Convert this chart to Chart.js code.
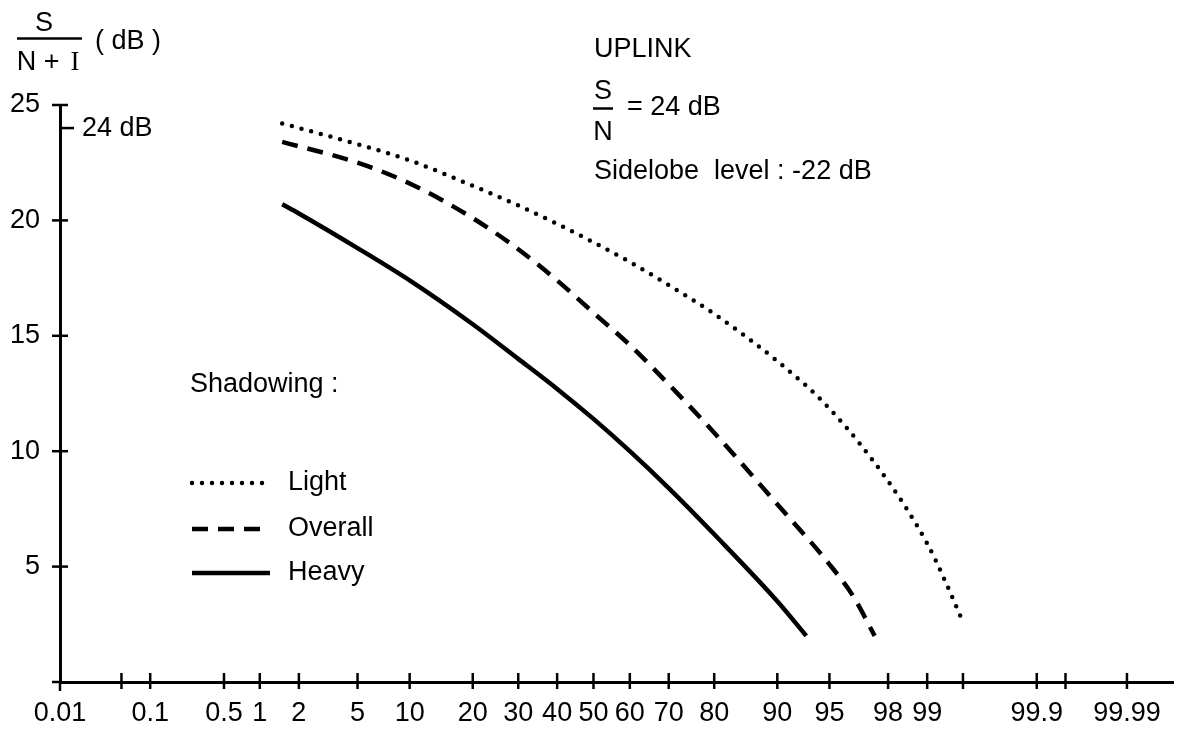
<!DOCTYPE html>
<html><head><meta charset="utf-8">
<script src="https://cdn.jsdelivr.net/npm/chart.js@4/dist/chart.umd.min.js"></script>
<style>html,body{margin:0;padding:0;background:#fff;overflow:hidden}#wrap{position:relative;width:1177px;height:733px}</style>
</head><body><div id="wrap"><canvas id="c" width="1177" height="733"></canvas></div>
<script>
// ---- data ----
const xTickProbs = [0.01,0.05,0.1,0.5,1,2,5,10,20,30,40,50,60,70,80,90,95,98,99,99.5,99.9,99.95,99.99];
const xTickText  = ['0.01','','0.1','0.5','1','2','5','10','20','30','40','50','60','70','80','90','95','98','99','','99.9','','99.99'];
const yTickValues = [5,10,15,20,25];

const lightProb = [1.5, 5, 10, 20, 30, 40, 50, 60, 70, 80, 90, 95, 98, 99, 99.3, 99.5];
const lightDb   = [24.2, 23.3, 22.6, 21.5, 20.65, 19.85, 19.05, 18.2, 17.2, 15.95, 13.9, 11.85, 8.7, 6.0, 4.3, 2.6];

const overallProb = [1.5, 5, 10, 20, 30, 40, 50, 60, 70, 80, 90, 95, 96.5, 97.5];
const overallDb   = [23.4, 22.5, 21.6, 20.1, 18.75, 17.4, 16.0, 14.6, 12.9, 10.8, 7.7, 5.1, 3.7, 2.0];

const heavyProb = [1.5, 2, 5, 10, 20, 30, 40, 50, 60, 70, 80, 90, 93.1];
const heavyDb   = [20.7, 20.3, 18.8, 17.4, 15.5, 14.0, 12.7, 11.4, 10.0, 8.4, 6.4, 3.5, 2.0];

const seriesNames = ['Light','Overall','Heavy'];

// ---- normal probability (probit) transform for the x scale ----
function probit(pct){
  const p = pct/100;
  const a=[-3.969683028665376e+01,2.209460984245205e+02,-2.759285104469687e+02,1.383577518672690e+02,-3.066479806614716e+01,2.506628277459239e+00];
  const b=[-5.447609879822406e+01,1.615858368580409e+02,-1.556989798598866e+02,6.680131188771972e+01,-1.328068155288572e+01];
  const c=[-7.784894002430293e-03,-3.223964580411365e-01,-2.400758277161838e+00,-2.549732539343734e+00,4.374664141464968e+00,2.938163982698783e+00];
  const d=[7.784695709041462e-03,3.224671290700398e-01,2.445134137142996e+00,3.754408661907416e+00];
  const pl=0.02425, ph=1-pl; let q,r;
  if(p<pl){q=Math.sqrt(-2*Math.log(p));return (((((c[0]*q+c[1])*q+c[2])*q+c[3])*q+c[4])*q+c[5])/((((d[0]*q+d[1])*q+d[2])*q+d[3])*q+1);}
  if(p<=ph){q=p-0.5;r=q*q;return (((((a[0]*r+a[1])*r+a[2])*r+a[3])*r+a[4])*r+a[5])*q/(((((b[0]*r+b[1])*r+b[2])*r+b[3])*r+b[4])*r+1);}
  q=Math.sqrt(-2*Math.log(1-p));return -(((((c[0]*q+c[1])*q+c[2])*q+c[3])*q+c[4])*q+c[5])/((((d[0]*q+d[1])*q+d[2])*q+d[3])*q+1);
}
const pts = (P,V) => P.map((p,i)=>({x:probit(p), y:V[i]}));

const FONT = '"Liberation Sans", Arial, Helvetica, sans-serif';
const FS = 27;
const styles = [
  {borderDash:[0,10], borderCapStyle:'round', borderWidth:4.5},
  {borderDash:[16,10], borderCapStyle:'butt', borderWidth:4.5},
  {borderDash:[], borderCapStyle:'butt', borderWidth:4.5}
];

const decor = {
  id:'decor',
  afterDraw(chart){
    const ctx = chart.ctx, xs = chart.scales.x, ys = chart.scales.y;
    ctx.save();
    ctx.strokeStyle='#000'; ctx.fillStyle='#000'; ctx.lineWidth=2.5; ctx.lineCap='butt';
    const y0 = ys.getPixelForValue(0), x0 = xs.getPixelForValue(xs.min);
    xs.ticks.forEach(t=>{ const px=xs.getPixelForValue(t.value); if(Math.abs(px-x0)<2) return;
      ctx.beginPath(); ctx.moveTo(px,y0-9); ctx.lineTo(px,y0+7); ctx.stroke(); });
    ys.ticks.forEach(t=>{ const py=ys.getPixelForValue(t.value);
      ctx.beginPath(); ctx.moveTo(x0-8,py); ctx.lineTo(x0+8,py); ctx.stroke(); });
    ctx.beginPath(); ctx.moveTo(x0,y0); ctx.lineTo(x0,y0+9); ctx.stroke();
    ctx.beginPath(); ctx.moveTo(x0-8,y0); ctx.lineTo(x0,y0); ctx.stroke();
    // 24 dB marker
    const p24 = ys.getPixelForValue(24);
    ctx.beginPath(); ctx.moveTo(x0,p24); ctx.lineTo(x0+14,p24); ctx.stroke();
    ctx.font = FS+'px '+FONT; ctx.textBaseline='middle'; ctx.textAlign='left';
    ctx.fillText('24 dB', 82, p24);

    // y-axis title: S / (N + I) (dB)
    ctx.textAlign='center';
    ctx.fillText('S', 44, 24);
    ctx.lineWidth=2.5; ctx.beginPath(); ctx.moveTo(17,38.5); ctx.lineTo(82,38.5); ctx.stroke();
    ctx.fillText('N + ', 42, 63);
    ctx.font=FS+'px "Liberation Serif", "Times New Roman", serif';
    ctx.fillText('I', 75, 63);
    ctx.font=FS+'px '+FONT; ctx.textAlign='left';
    ctx.fillText('( dB )', 95, 42);

    // top-right annotations
    ctx.fillText('UPLINK', 594, 50);
    ctx.textAlign='center';
    ctx.fillText('S', 603, 92);
    ctx.beginPath(); ctx.moveTo(593,108.5); ctx.lineTo(613,108.5); ctx.stroke();
    ctx.fillText('N', 603, 133);
    ctx.textAlign='left';
    ctx.fillText('= 24 dB', 627, 108);
    ctx.fillText('Sidelobe  level : -22 dB', 594, 172);

    // legend
    ctx.fillText('Shadowing :', 190, 385);
    const ly=[483,529,573];
    chart.data.datasets.forEach((ds,i)=>{
      ctx.save();
      ctx.lineWidth=ds.borderWidth; ctx.lineCap=ds.borderCapStyle; ctx.setLineDash(ds.borderDash);
      ctx.beginPath(); ctx.moveTo(192,ly[i]); ctx.lineTo(i===0?272:270,ly[i]);
      ctx.stroke(); ctx.restore();
      ctx.fillText(ds.label, 288, ly[i]);
    });
    ctx.restore();
  }
};

new Chart(document.getElementById('c'), {
  type:'line',
  data:{ datasets:[
    {label:seriesNames[0], data:pts(lightProb,lightDb), ...styles[0]},
    {label:seriesNames[1], data:pts(overallProb,overallDb), ...styles[1]},
    {label:seriesNames[2], data:pts(heavyProb,heavyDb), ...styles[2]}
  ].map(d=>Object.assign(d,{borderColor:'#000', backgroundColor:'#000', pointRadius:0, fill:false, cubicInterpolationMode:'monotone'}))},
  options:{
    responsive:false, animation:false, devicePixelRatio:1,
    layout:{padding:{top:105,right:4,left:0,bottom:0}},
    plugins:{legend:{display:false}, tooltip:{enabled:false}},
    scales:{
      x:{ type:'linear', min:probit(0.01), max:4.04,
        afterBuildTicks:s=>{ s.ticks = xTickProbs.map(p=>({value:probit(p)})); },
        afterFit:s=>{ s.height = 51; },
        grid:{display:false, drawTicks:false},
        border:{display:true, width:3, color:'#000'},
        ticks:{ autoSkip:false, maxRotation:0, padding:15, color:'#000',
          font:{family:FONT, size:FS},
          callback:(v,i)=>xTickText[i] }
      },
      y:{ type:'linear', min:0, max:25,
        afterBuildTicks:s=>{ s.ticks = yTickValues.map(v=>({value:v})); },
        afterFit:s=>{ s.width = 60; },
        grid:{display:false, drawTicks:false},
        border:{display:true, width:3, color:'#000'},
        ticks:{ padding:20, color:'#000', font:{family:FONT, size:FS} }
      }
    }
  },
  plugins:[decor]
});
</script></body></html>
